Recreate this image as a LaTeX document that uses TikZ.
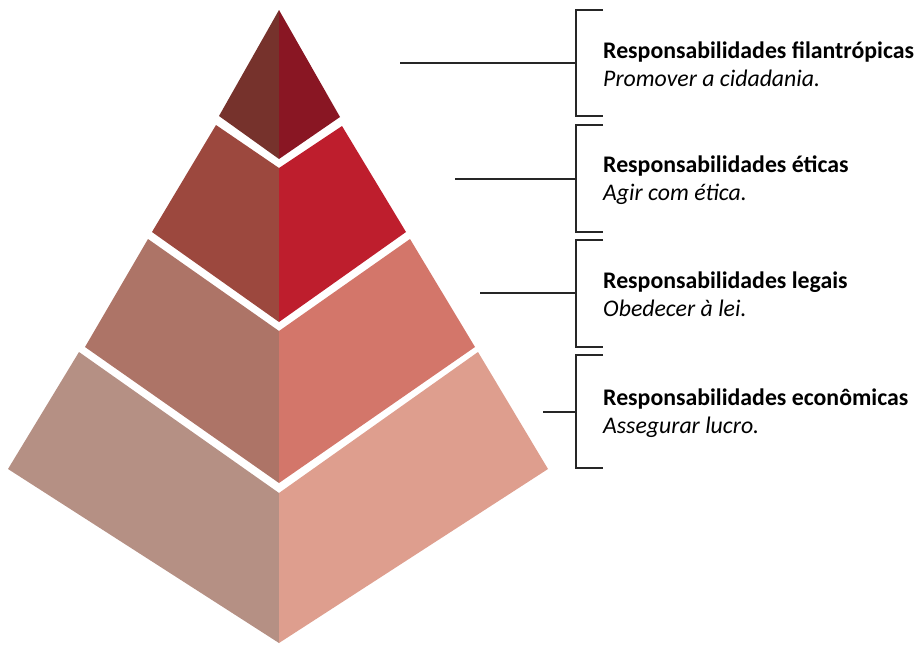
\documentclass[tikz,border=0pt]{standalone}
\usepackage{fontspec}
\setmainfont{Carlito}
\usepackage{xcolor}
\usetikzlibrary{positioning, calc}

\definecolor{topL}{HTML}{76322C}
\definecolor{topR}{HTML}{891623}
\definecolor{ethL}{HTML}{9C483E}
\definecolor{ethR}{HTML}{BE1E2D}
\definecolor{legL}{HTML}{AD7467}
\definecolor{legR}{HTML}{D3766A}
\definecolor{ecoL}{HTML}{B59084}
\definecolor{ecoR}{HTML}{DE9E8E}

\begin{document}
\begin{tikzpicture}[x=1pt, y=-1pt,
  bracket/.style={draw=black!85, line width=1.1pt},
  resp/.style={anchor=west, align=left, inner sep=0pt,
    font=\fontsize{23.8}{28}\selectfont}]
  \useasboundingbox (0,0) rectangle (921,645);

  % Apex layer
  \coordinate (A) at (279,10);
  \coordinate (P1L) at (219,116);
  \coordinate (P1N) at (279,159);
  \coordinate (P1R) at (340,117);
  \fill[topL] (A) -- (P1L) -- (P1N) -- cycle;
  \fill[topR] (A) -- (P1N) -- (P1R) -- cycle;

  % Second layer
  \coordinate (P2TL) at (216,125);
  \coordinate (P2TN) at (279,168);
  \coordinate (P2TR) at (342,126);
  \coordinate (P2BL) at (152,232);
  \coordinate (P2BN) at (279,322);
  \coordinate (P2BR) at (406,232);
  \fill[ethL] (P2TL) -- (P2TN) -- (P2BN) -- (P2BL) -- cycle;
  \fill[ethR] (P2TN) -- (P2TR) -- (P2BR) -- (P2BN) -- cycle;

  % Third layer
  \coordinate (P3TL) at (148,239);
  \coordinate (P3TN) at (279,331);
  \coordinate (P3TR) at (410,239);
  \coordinate (P3BL) at (85,347);
  \coordinate (P3BN) at (279,483);
  \coordinate (P3BR) at (475,347);
  \fill[legL] (P3TL) -- (P3TN) -- (P3BN) -- (P3BL) -- cycle;
  \fill[legR] (P3TN) -- (P3TR) -- (P3BR) -- (P3BN) -- cycle;

  % Base layer
  \coordinate (P4TL) at (79,352);
  \coordinate (P4TN) at (279,493);
  \coordinate (P4TR) at (478,352);
  \coordinate (P4L) at (8,469);
  \coordinate (P4B) at (279,643);
  \coordinate (P4R) at (548,469);
  \fill[ecoL] (P4TL) -- (P4TN) -- (P4B) -- (P4L) -- cycle;
  \fill[ecoR] (P4TN) -- (P4TR) -- (P4R) -- (P4B) -- cycle;

  % Brackets with leader lines
  \foreach \i/\top/\bot/\mid/\from in {1/10/116/63/400, 2/125/232/179/455,
      3/240/347/293/480, 4/355/468/412/543} {
    \coordinate (lead\i) at (\from,\mid);
    \coordinate (br\i) at (576,\mid);
    \draw[bracket] (603,\top) -- (576,\top) -- (576,\bot) -- (603,\bot);
    \draw[bracket] (lead\i) -- (br\i);
  }

  % Labels
  \node[resp] (phil) at (603,64) {\textbf{Responsabilidades filantrópicas}\\\textit{Promover a cidadania.}};
  \node[resp] (eth) at (603,180) {\textbf{Responsabilidades éticas}\\\textit{Agir com ética.}};
  \node[resp] (leg) at (603,294) {\textbf{Responsabilidades legais}\\\textit{Obedecer à lei.}};
  \node[resp] (eco) at (603,413) {\textbf{Responsabilidades econômicas}\\\textit{Assegurar lucro.}};
\end{tikzpicture}
\end{document}
